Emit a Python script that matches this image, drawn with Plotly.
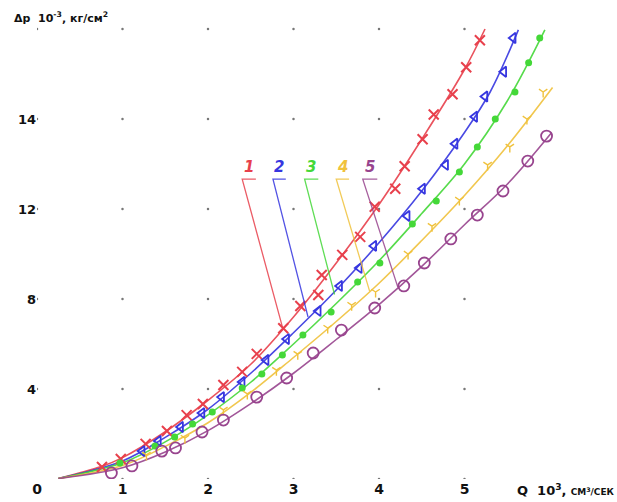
import plotly.graph_objects as go

# ---------------- data ----------------
series_names = ["1", "2", "3", "4", "5"]
colors = ["#e8404c", "#3636e0", "#44d838", "#f0c23c", "#98448e"]

# markers (measured points)
q1 = [0.76, 0.98, 1.27, 1.52, 1.75, 1.94, 2.18, 2.40, 2.57, 2.88, 3.08, 3.29, 3.33, 3.57, 3.78, 3.95, 4.19, 4.30, 4.51, 4.64, 4.86, 5.02, 5.18]
p1 = [0.53, 0.89, 1.56, 2.13, 2.84, 3.33, 4.18, 4.76, 5.56, 6.70, 7.69, 8.18, 9.07, 9.96, 10.76, 12.1, 12.9, 13.9, 15.1, 16.2, 17.1, 18.3, 19.5]

q2 = [1.23, 1.42, 1.68, 1.93, 2.16, 2.40, 2.68, 2.92, 3.29, 3.54, 3.77, 3.94, 4.33, 4.51, 4.78, 4.89, 5.12, 5.24, 5.46, 5.57]
p2 = [1.24, 1.69, 2.31, 2.93, 3.64, 4.31, 5.29, 6.22, 7.47, 8.58, 9.38, 10.36, 11.69, 12.9, 13.96, 14.9, 16.1, 17.0, 18.1, 19.6]

q3 = [0.97, 1.38, 1.61, 1.82, 2.05, 2.40, 2.63, 2.87, 3.11, 3.44, 3.75, 4.01, 4.39, 4.67, 4.94, 5.15, 5.36, 5.59, 5.75, 5.88]
p3 = [0.71, 1.47, 1.87, 2.44, 2.98, 4.04, 4.67, 5.51, 6.40, 7.42, 8.76, 9.60, 11.33, 12.36, 13.64, 14.76, 16.0, 17.2, 18.5, 19.6]

q4 = [1.28, 1.73, 2.18, 2.46, 2.80, 3.05, 3.40, 3.68, 3.96, 4.34, 4.62, 4.94, 5.27, 5.53, 5.73, 5.92]
p4 = [1.07, 1.82, 3.07, 3.78, 4.84, 5.55, 6.71, 7.73, 8.31, 10.0, 11.24, 12.4, 13.96, 14.76, 16.0, 17.2]

q5 = [0.87, 1.11, 1.46, 1.62, 1.93, 2.18, 2.57, 2.92, 3.23, 3.56, 3.95, 4.29, 4.53, 4.84, 5.15, 5.45, 5.74, 5.96]
p5 = [0.27, 0.58, 1.24, 1.38, 2.09, 2.62, 3.64, 4.49, 5.60, 6.62, 7.60, 8.58, 9.60, 10.67, 11.73, 12.8, 14.13, 15.24]

# fitted curves
lq1 = [0.25, 0.75, 1.0, 1.5, 2.0, 2.5, 3.0, 3.5, 4.0, 4.5, 5.0, 5.24]
lp1 = [0.02, 0.55, 0.95, 2.1, 3.5, 5.1, 7.2, 9.6, 12.2, 15.1, 18.2, 20.0]
lq2 = [0.25, 1.0, 1.5, 2.0, 2.5, 3.0, 3.5, 4.0, 4.5, 5.0, 5.3, 5.63]
lp2 = [0.02, 0.8, 1.85, 3.1, 4.7, 6.5, 8.4, 10.5, 12.8, 15.4, 17.2, 19.96]
lq3 = [0.25, 1.0, 1.5, 2.0, 2.5, 3.0, 3.5, 4.0, 4.5, 5.0, 5.5, 5.94]
lp3 = [0.02, 0.72, 1.65, 2.85, 4.3, 6.0, 7.8, 9.7, 11.8, 14.0, 16.8, 19.96]
lq4 = [0.25, 1.0, 1.5, 2.0, 2.5, 3.0, 3.5, 4.0, 4.5, 5.0, 5.5, 6.03]
lp4 = [0.02, 0.6, 1.45, 2.5, 3.85, 5.4, 7.0, 8.7, 10.6, 12.6, 14.8, 17.4]
lq5 = [0.25, 1.0, 1.5, 2.0, 2.5, 3.0, 3.5, 4.0, 4.5, 5.0, 5.5, 6.02]
lp5 = [0.02, 0.5, 1.2, 2.15, 3.35, 4.7, 6.2, 7.75, 9.45, 11.3, 13.1, 15.4]

x_ticks = [0, 1, 2, 3, 4, 5]
x_tick_labels = ["0", "1", "2", "3", "4", "5"]
y_ticks = [4, 8, 12, 16]
y_tick_labels = ["4", "8", "12", "14"]

# labels with leader lines: underline left/right Q, underline level, leader tip
label_left = [2.40, 2.76, 3.13, 3.50, 3.81]
label_right = [2.56, 2.91, 3.29, 3.65, 3.98]
label_level = 13.33
tip_q = [2.87, 3.17, 3.48, 3.89, 4.22]
tip_p = [6.76, 7.20, 8.20, 8.35, 8.53]

grid_q = [0, 1, 2, 3, 4, 5]
grid_p = [0, 4, 8, 12, 16, 20]

# ---------------- figure ----------------
fig = go.Figure()

# grid dots
gx, gy = [], []
for q in grid_q:
    for p in grid_p:
        if q == 0 and p == 0:
            continue
        gx.append(q)
        gy.append(p)
fig.add_trace(go.Scatter(x=gx, y=gy, mode="markers",
                         marker=dict(size=2.5, color="#777777"),
                         hoverinfo="skip", showlegend=False))

line_q = [lq1, lq2, lq3, lq4, lq5]
line_p = [lp1, lp2, lp3, lp4, lp5]
mark_q = [q1, q2, q3, q4, q5]
mark_p = [p1, p2, p3, p4, p5]
symbols = ["x-thin-open", "triangle-left-open", "circle", "y-down-open", "circle-open"]
sizes = [10, 9, 7, 7, 11]
mlw = [2, 1.8, 0, 1.4, 1.8]

for i in range(5):
    fig.add_trace(go.Scatter(x=line_q[i], y=line_p[i], mode="lines",
                             line=dict(color=colors[i], width=1.6, shape="spline", smoothing=1.0),
                             opacity=0.9, showlegend=False, hoverinfo="skip"))
for i in range(5):
    fig.add_trace(go.Scatter(x=mark_q[i], y=mark_p[i], mode="markers",
                             name=series_names[i],
                             marker=dict(symbol=symbols[i], size=sizes[i], color=colors[i],
                                         line=dict(color=colors[i], width=mlw[i])),
                             showlegend=False))
    # leader line
    fig.add_trace(go.Scatter(x=[label_right[i], label_left[i], tip_q[i]],
                             y=[label_level, label_level, tip_p[i]],
                             mode="lines", line=dict(color=colors[i], width=1.3),
                             opacity=0.85, showlegend=False, hoverinfo="skip"))
    fig.add_annotation(x=(label_left[i] + label_right[i]) / 2, y=label_level + 0.05,
                       text="<b><i>" + series_names[i] + "</i></b>", showarrow=False,
                       xanchor="center", yanchor="bottom",
                       font=dict(family="DejaVu Sans", size=15, color=colors[i]))

L, R, T, B = 37, 10, 10, 23
W, H = 617, 502
PW, PH = W - L - R, H - T - B
xmax = PW / 85.5
ymax = (479 - T) / 22.5

# axis titles (paper coordinates)
fig.add_annotation(x=(12 - L) / PW, y=(H - B - 17) / PH, xref="paper", yref="paper",
                   text="<b>Δp  10<sup>-3</sup>, кг/см<sup>2</sup></b>", showarrow=False,
                   xanchor="left", yanchor="middle",
                   font=dict(family="DejaVu Sans", size=11, color="#111111"))
fig.add_annotation(x=(515 - L) / PW, y=(H - B - 490) / PH, xref="paper", yref="paper",
                   text="<b>Q  10<sup>3</sup>,</b> <span style='font-size:9px'><b>СМ<sup>3</sup>/СЕК</b></span>",
                   showarrow=False, xanchor="left", yanchor="middle",
                   font=dict(family="DejaVu Sans", size=13, color="#111111"))

fig.update_layout(
    width=W, height=H,
    margin=dict(l=L, r=R, t=T, b=B, autoexpand=False),
    paper_bgcolor="white", plot_bgcolor="white",
    showlegend=False,
    xaxis=dict(range=[0, xmax], showgrid=False, zeroline=False, showline=False,
               automargin=False,
               tickvals=x_ticks, ticktext=x_tick_labels, ticks="",
               tickfont=dict(family="DejaVu Sans", size=14, color="#111111", weight="bold")),
    yaxis=dict(range=[0, ymax], showgrid=False, zeroline=False, showline=False,
               automargin=False,
               tickvals=y_ticks, ticktext=y_tick_labels, ticks="",
               tickfont=dict(family="DejaVu Sans", size=13, color="#111111", weight="bold")),
)

fig.write_html("out.html", config={"displayModeBar": False},
               post_script="document.body.style.margin='0';document.body.style.padding='0';")
